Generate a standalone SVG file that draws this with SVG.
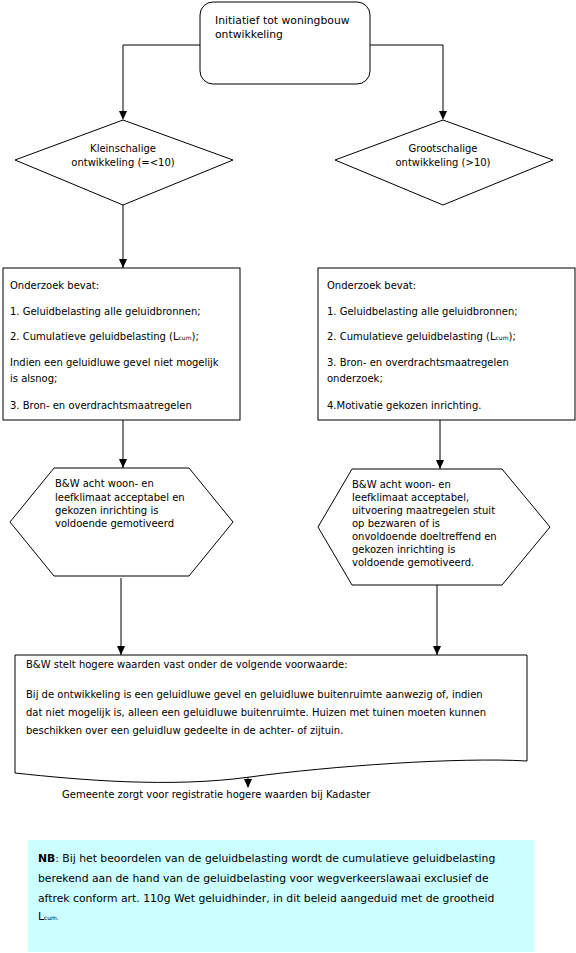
<svg xmlns="http://www.w3.org/2000/svg" width="576" height="953" viewBox="0 0 576 953">
<defs>
<style>
.shape{fill:#fff;stroke:#000;stroke-width:1}
.t{font-family:"DejaVu Sans","Verdana",sans-serif;font-size:10px;fill:#000}
.big{font-size:10.8px}
.c{text-anchor:middle}
.sub{font-size:6px}
.conn{fill:none;stroke:#000;stroke-width:1}
</style>
</defs>
<rect width="576" height="953" fill="#fff"/>
<g id="connectors">
<path class="conn" d="M200,45 H123 V111"/>
<path class="conn" d="M370,45 H443 V111"/>
<line class="conn" x1="123" y1="205" x2="123" y2="268"/>
<line class="conn" x1="123" y1="420" x2="123" y2="468"/>
<line class="conn" x1="440" y1="420" x2="440" y2="469"/>
<line class="conn" x1="121" y1="578" x2="121" y2="655"/>
<line class="conn" x1="437" y1="577" x2="437" y2="655"/>
<line class="conn" x1="248" y1="769" x2="248" y2="787"/>
<path d="M119,111 L127,111 L123,120 Z"/>
<path d="M439,111 L447,111 L443,120 Z"/>
<path d="M119,259 L127,259 L123,268 Z"/>
<path d="M119,459 L127,459 L123,468 Z"/>
<path d="M436,460 L444,460 L440,469 Z"/>
<path d="M117,646 L125,646 L121,655 Z"/>
<path d="M433,646 L441,646 L437,655 Z"/>
<path d="M244,779 L252,779 L248,788 Z"/>
</g>
<g id="start">
<rect class="shape" x="200" y="2" width="170" height="82" rx="13"/>
<text class="t big" x="215" y="24">Initiatief tot woningbouw</text>
<text class="t big" x="215" y="38">ontwikkeling</text>
</g>
<g id="klein">
<polygon class="shape" points="123,120 233,160 123,205 15,160"/>
<text class="t c" x="123" y="152">Kleinschalige</text>
<text class="t c" x="123" y="166">ontwikkeling (=&lt;10)</text>
</g>
<g id="groot">
<polygon class="shape" points="443,120 553,160 443,205 335,160"/>
<text class="t c" x="443" y="152">Grootschalige</text>
<text class="t c" x="443" y="166">ontwikkeling (&gt;10)</text>
</g>
<g id="onderzoek-links">
<rect class="shape" x="3" y="268" width="237" height="152"/>
<text class="t" x="10" y="289">Onderzoek bevat:</text>
<text class="t" x="10" y="315">1. Geluidbelasting alle geluidbronnen;</text>
<text class="t" x="10" y="340">2. Cumulatieve geluidbelasting (L<tspan class="sub">cum</tspan>);</text>
<text class="t" x="10" y="366">Indien een geluidluwe gevel niet mogelijk</text>
<text class="t" x="10" y="382">is alsnog;</text>
<text class="t" x="10" y="409">3. Bron- en overdrachtsmaatregelen</text>
</g>
<g id="onderzoek-rechts">
<rect class="shape" x="318" y="268" width="257" height="152"/>
<text class="t" x="327" y="289">Onderzoek bevat:</text>
<text class="t" x="327" y="315">1. Geluidbelasting alle geluidbronnen;</text>
<text class="t" x="327" y="340">2. Cumulatieve geluidbelasting (L<tspan class="sub">cum</tspan>);</text>
<text class="t" x="327" y="366">3. Bron- en overdrachtsmaatregelen</text>
<text class="t" x="327" y="382">onderzoek;</text>
<text class="t" x="327" y="409">4.Motivatie gekozen inrichting.</text>
</g>
<g id="besluit-links">
<polygon class="shape" points="10,522 54,468 189,468 233,522 189,576 54,576"/>
<text class="t" x="55" y="487">B&amp;W acht woon- en</text>
<text class="t" x="55" y="501">leefklimaat acceptabel en</text>
<text class="t" x="55" y="514">gekozen inrichting is</text>
<text class="t" x="55" y="527">voldoende gemotiveerd</text>
</g>
<g id="besluit-rechts">
<polygon class="shape" points="318,527 352,469 502,469 550,527 502,585 352,585"/>
<text class="t" x="352" y="488">B&amp;W acht woon- en</text>
<text class="t" x="352" y="501">leefklimaat acceptabel,</text>
<text class="t" x="352" y="514">uitvoering maatregelen stuit</text>
<text class="t" x="352" y="527">op bezwaren of is</text>
<text class="t" x="352" y="540">onvoldoende doeltreffend en</text>
<text class="t" x="352" y="553">gekozen inrichting is</text>
<text class="t" x="352" y="566">voldoende gemotiveerd.</text>
</g>
<g id="hogere-waarden">
<path class="shape" d="M15,655 H527 V761 C460,757 330,766 250,777 C170,788 80,780 15,773 Z"/>
<text class="t" x="26" y="668">B&amp;W stelt hogere waarden vast onder de volgende voorwaarde:</text>
<text class="t" x="26" y="698">Bij de ontwikkeling is een geluidluwe gevel en geluidluwe buitenruimte aanwezig of, indien</text>
<text class="t" x="26" y="716">dat niet mogelijk is, alleen een geluidluwe buitenruimte. Huizen met tuinen moeten kunnen</text>
<text class="t" x="26" y="734">beschikken over een geluidluw gedeelte in de achter- of zijtuin.</text>
</g>
<g id="registratie">
<text class="t" x="62" y="798">Gemeente zorgt voor registratie hogere waarden bij Kadaster</text>
</g>
<g id="nb">
<rect x="28" y="840" width="506" height="112" fill="#ccffff"/>
<text class="t big" x="38" y="862"><tspan font-weight="bold">NB</tspan>: Bij het beoordelen van de geluidbelasting wordt de cumulatieve  geluidbelasting</text>
<text class="t big" x="38" y="882">berekend aan de hand van de geluidbelasting voor wegverkeerslawaai exclusief de</text>
<text class="t big" x="38" y="902">aftrek conform art. 110g Wet geluidhinder, in dit beleid aangeduid met de grootheid</text>
<text class="t big" x="38" y="920">L<tspan class="sub">cum.</tspan></text>
</g>
</svg>
